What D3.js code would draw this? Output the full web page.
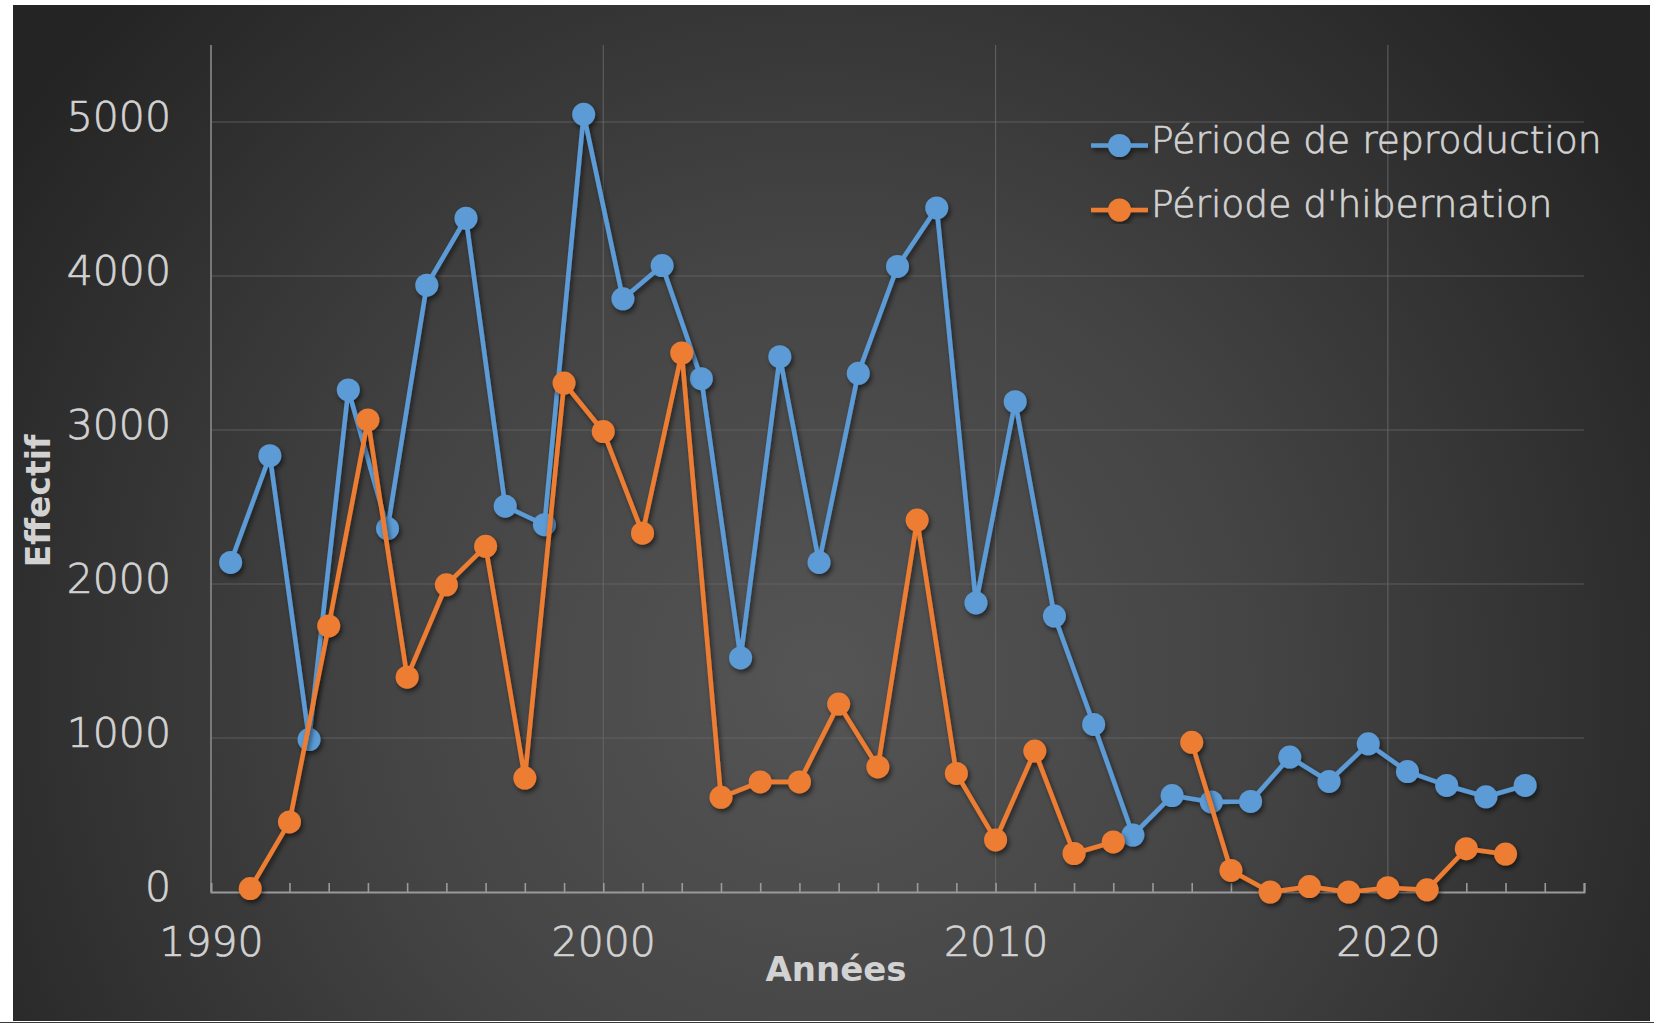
<!DOCTYPE html>
<html lang="fr">
<head>
<meta charset="utf-8">
<title>Effectif par année</title>
<script src="https://cdn.jsdelivr.net/npm/d3@7/dist/d3.min.js"></script>
<style>
  html, body { margin: 0; padding: 0; background: #ffffff; }
  svg { display: block; }
</style>
</head>
<body>
<svg id="chart" width="1660" height="1024"></svg>
<script>
// Breeding-season counts, plotted mid-year
const reproYears = [1990.5, 1991.5, 1992.5, 1993.5, 1994.5, 1995.5, 1996.5, 1997.5, 1998.5, 1999.5,
                    2000.5, 2001.5, 2002.5, 2003.5, 2004.5, 2005.5, 2006.5, 2007.5, 2008.5, 2009.5,
                    2010.5, 2011.5, 2012.5, 2013.5, 2014.5, 2015.5, 2016.5, 2017.5, 2018.5, 2019.5,
                    2020.5, 2021.5, 2022.5, 2023.5];
const reproValues = [2140, 2833, 990, 3260, 2360, 3940, 4375, 2505, 2385, 5050,
                     3852, 4068, 3333, 1520, 3476, 2140, 3368, 4062, 4442, 1877,
                     3184, 1792, 1088, 370, 626, 585, 588, 876, 718, 962,
                     782, 692, 618, 692];

// Hibernation counts (no count in 2014)
const hiberYears = [1991, 1992, 1993, 1994, 1995, 1996, 1997, 1998, 1999, 2000,
                    2001, 2002, 2003, 2004, 2005, 2006, 2007, 2008, 2009, 2010,
                    2011, 2012, 2013, 2014, 2015, 2016, 2017, 2018, 2019, 2020,
                    2021, 2022, 2023];
const hiberValues = [22, 455, 1728, 3065, 1395, 1995, 2245, 740, 3305, 2990,
                     2330, 3500, 615, 715, 715, 1220, 812, 2415, 770, 338,
                     915, 250, 325, null, 972, 140, 0, 35, 0, 28,
                     14, 281, 246];

const seriesNames = ["Période de reproduction", "Période d'hibernation"];
const seriesColors = ["#5b9bd5", "#ed7d31"];

const yTicks = [0, 1000, 2000, 3000, 4000, 5000];
const xLabelTicks = [1990, 2000, 2010, 2020];
const xMinorTicks = d3.range(1991, 2026);
const xGridTicks = [2000, 2010, 2020];

const xTitle = "Années";
const yTitle = "Effectif";

const svg = d3.select("#chart");

// ---- background panel with soft radial light ----
const defs = svg.append("defs");
const grad = defs.append("radialGradient")
  .attr("id", "bgGrad")
  .attr("gradientUnits", "userSpaceOnUse")
  .attr("cx", 820).attr("cy", 680).attr("r", 980);
grad.append("stop").attr("offset", "0%").attr("stop-color", "#555555");
grad.append("stop").attr("offset", "45%").attr("stop-color", "#444444");
grad.append("stop").attr("offset", "100%").attr("stop-color", "#242424");

const shadow = defs.append("filter")
  .attr("id", "shadow")
  .attr("x", "-10%").attr("y", "-10%").attr("width", "120%").attr("height", "120%");
shadow.append("feDropShadow")
  .attr("dx", 2).attr("dy", 3).attr("stdDeviation", 2.5)
  .attr("flood-color", "#000").attr("flood-opacity", 0.55);

svg.append("rect")
  .attr("x", 13).attr("y", 5).attr("width", 1637).attr("height", 1016)
  .attr("fill", "url(#bgGrad)");
svg.append("line")
  .attr("x1", 0).attr("x2", 1654).attr("y1", 1022.5).attr("y2", 1022.5)
  .attr("stroke", "#3a3a3a").attr("stroke-width", 1);

// ---- scales ----
const x = d3.scaleLinear().domain([1990, 2025]).range([211, 1584]);
const y = d3.scaleLinear().domain([0, 5500]).range([892, 45]);

const textColor = "#d2d2d2";
const fontFamily = "'Century Gothic', 'DejaVu Sans', sans-serif";
const lightWeight = 200;

// light text gets a hairline outline for a slightly fuller stroke
function lightText(sel, size) {
  sel.attr("fill", textColor)
    .attr("stroke", textColor)
    .attr("stroke-width", 0.7)
    .attr("font-family", fontFamily)
    .attr("font-weight", lightWeight)
    .attr("font-size", size);
}

// ---- grid ----
const grid = svg.append("g").attr("class", "grid");
grid.selectAll("line.h")
  .data(yTicks.filter(d => d > 0))
  .join("line")
  .attr("x1", x(1990)).attr("x2", x(2025))
  .attr("y1", d => y(d)).attr("y2", d => y(d))
  .attr("stroke", "#6a6a6a").attr("stroke-opacity", 0.75).attr("stroke-width", 1.2);
grid.selectAll("line.v")
  .data(xGridTicks)
  .join("line")
  .attr("x1", d => x(d)).attr("x2", d => x(d))
  .attr("y1", y(5500)).attr("y2", y(0))
  .attr("stroke", "#6a6a6a").attr("stroke-opacity", 0.75).attr("stroke-width", 1.2);

// left axis line
svg.append("line")
  .attr("x1", x(1990)).attr("x2", x(1990))
  .attr("y1", y(5500)).attr("y2", y(0))
  .attr("stroke", "#8a8a8a").attr("stroke-width", 1.6);

// ---- y axis labels ----
const yAxis = d3.axisLeft(y).tickValues(yTicks).tickSize(0).tickPadding(40).tickFormat(d3.format("d"));
const gy = svg.append("g").attr("transform", `translate(${x(1990)},0)`).call(yAxis);
gy.select(".domain").remove();
gy.selectAll("text").call(lightText, 41).attr("y", -5);

// ---- x axis: minor year ticks pointing up, labels every decade ----
const xMinor = d3.axisBottom(x).tickValues(xMinorTicks).tickSize(-9).tickFormat("");
const gxm = svg.append("g").attr("transform", `translate(0,${y(0)})`).call(xMinor);
gxm.select(".domain")
  .attr("stroke", "#9a9a9a").attr("stroke-width", 2);
gxm.selectAll(".tick line").attr("stroke", "#9a9a9a").attr("stroke-width", 1.6);

const xMajor = d3.axisBottom(x).tickValues(xLabelTicks).tickSize(0).tickFormat(d3.format("d"));
const gx = svg.append("g").attr("transform", `translate(0,${y(0)})`).call(xMajor);
gx.select(".domain").remove();
gx.selectAll("text").call(lightText, 41)
  .attr("y", 50)
  .attr("dy", "0.35em");

// ---- axis titles ----
svg.append("text")
  .attr("x", 836).attr("y", 981)
  .attr("text-anchor", "middle")
  .attr("fill", textColor)
  .attr("font-family", fontFamily)
  .attr("font-weight", "bold")
  .attr("font-size", 34)
  .text(xTitle);

svg.append("text")
  .attr("transform", "translate(50,501) rotate(-90)")
  .attr("text-anchor", "middle")
  .attr("fill", textColor)
  .attr("font-family", fontFamily)
  .attr("font-weight", "bold")
  .attr("font-size", 33)
  .text(yTitle);

// ---- series ----
const series = [
  reproYears.map((yr, i) => ({ yr, v: reproValues[i] })),
  hiberYears.map((yr, i) => ({ yr, v: hiberValues[i] }))
];

const line = d3.line()
  .defined(d => d.v !== null)
  .x(d => x(d.yr))
  .y(d => y(d.v));

series.forEach((data, si) => {
  const g = svg.append("g").attr("filter", "url(#shadow)");
  g.append("path")
    .datum(data)
    .attr("d", line)
    .attr("fill", "none")
    .attr("stroke", seriesColors[si])
    .attr("stroke-width", 4.6)
    .attr("stroke-linejoin", "round");
  g.selectAll("circle")
    .data(data.filter(d => d.v !== null))
    .join("circle")
    .attr("cx", d => x(d.yr))
    .attr("cy", d => y(d.v))
    .attr("r", 11.5)
    .attr("fill", seriesColors[si]);
});

// ---- legend ----
const legend = svg.append("g").attr("transform", "translate(1091,0)");
const legendRows = [145.5, 210];
seriesNames.forEach((name, i) => {
  const row = legend.append("g").attr("transform", `translate(0,${legendRows[i]})`);
  const mk = row.append("g").attr("filter", "url(#shadow)");
  mk.append("line")
    .attr("x1", 0).attr("x2", 57).attr("y1", 0).attr("y2", 0)
    .attr("stroke", seriesColors[i]).attr("stroke-width", 4.6);
  mk.append("circle")
    .attr("cx", 28.5).attr("cy", 0).attr("r", 11.5)
    .attr("fill", seriesColors[i]);
  row.append("text")
    .attr("x", 60).attr("y", 7)
    .call(lightText, 37.6)
    .text(name);
});
</script>
</body>
</html>
